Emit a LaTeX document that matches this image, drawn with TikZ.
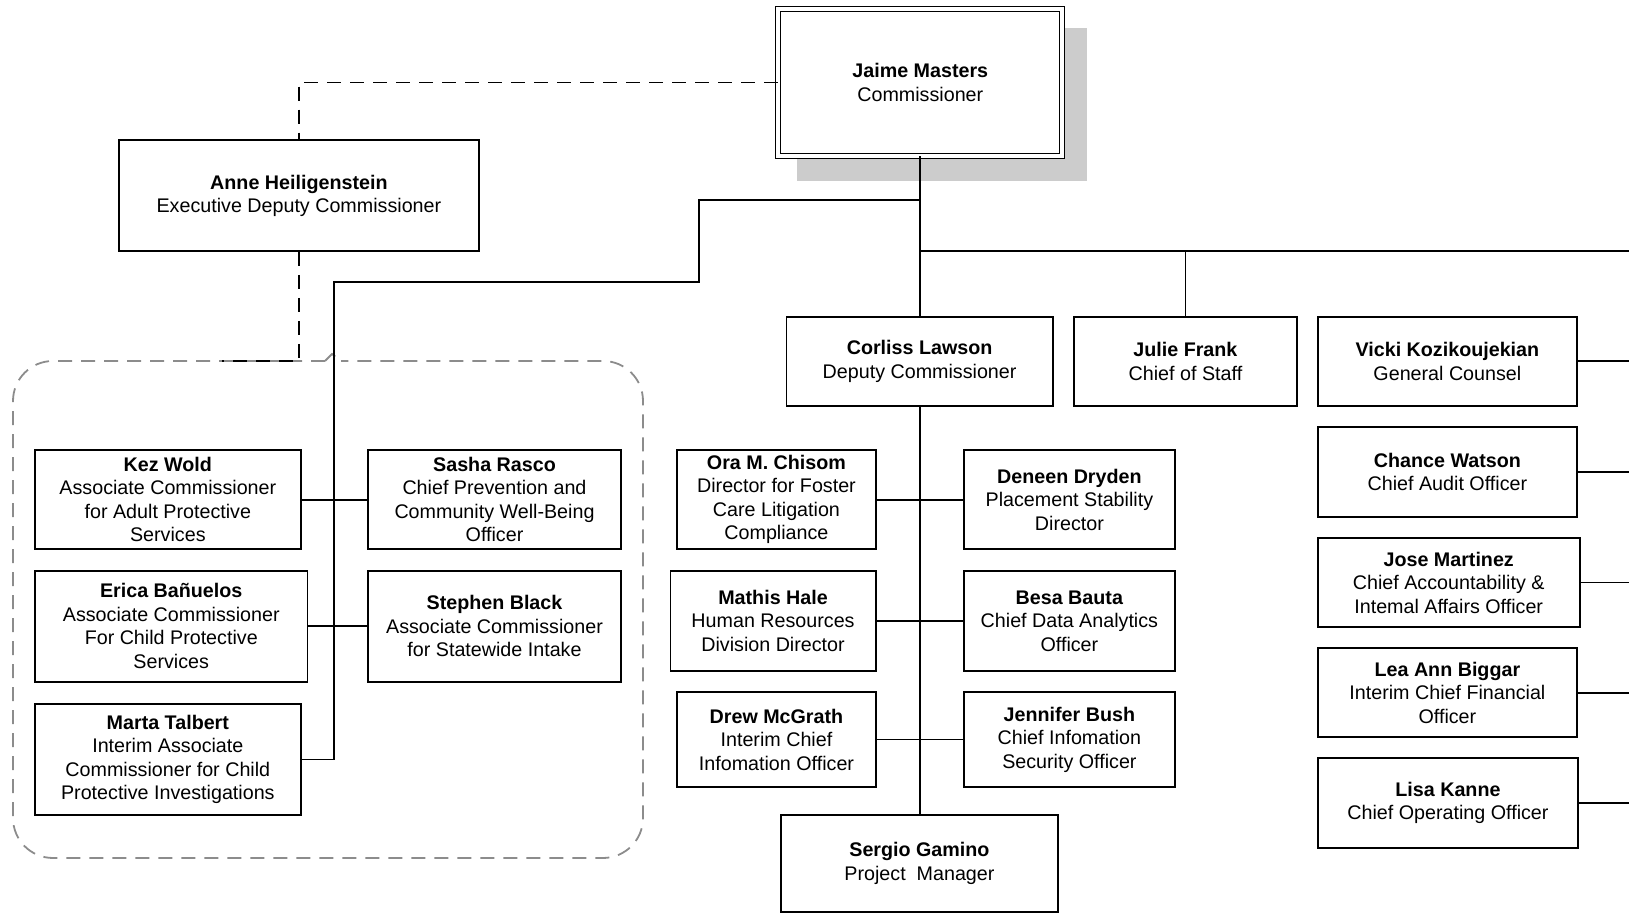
\documentclass[tikz,border=0pt]{standalone}
\usepackage{fontspec}
\setmainfont{Liberation Sans}
\begin{document}
\begin{tikzpicture}[x=0.5pt,y=-0.5pt]
\definecolor{shadowgray}{HTML}{CCCCCC}
\definecolor{grpgray}{HTML}{8C8C8C}
\tikzset{
  box/.style={draw, line width=0.9pt, fill=white, align=center, inner sep=0pt,
    font=\fontsize{9.85}{11.75}\selectfont},
  conn/.style={line width=0.9pt},
  dconn/.style={line width=0.9pt, dash pattern=on 7pt off 4.5pt},
  grp/.style={line width=0.9pt, grpgray, dash pattern=on 7pt off 4.5pt},
}
\useasboundingbox (0,0) rectangle (1629,913);
\coordinate (R) at (1629,0);

% shadow of top box
\fill[shadowgray] (796.5,27.7) rectangle (1086.6,180.7);

% dashed group boundary
\draw[grp, rounded corners=20pt] (325,361) -- (13,361) -- (13,858) -- (643,858) -- (643,361) -- (341,361);
\draw[grp] (325,361) -- (332,354) -- (341,361);

% nodes
\node[box, double, double distance=1.9pt, line width=0.6pt, minimum width=141.97pt, minimum height=73.25pt] (jaime) at (920.3,82.45) {\textbf{Jaime Masters}\\Commissioner};
\node[box, minimum width=179.7pt, minimum height=55.35pt] (anne) at (298.9,195.7) {\textbf{Anne Heiligenstein}\\Executive Deputy Commissioner};
\node[box, minimum width=133.1pt, minimum height=44.65pt] (corliss) at (919.6,361.35) {\textbf{Corliss Lawson}\\Deputy Commissioner};
\node[box, minimum width=111.55pt, minimum height=44.65pt] (julie) at (1185.45,361.35) {\textbf{Julie Frank}\\Chief of Staff};
\node[box, minimum width=129.8pt, minimum height=44.65pt] (vicki) at (1447.4,361.35) {\textbf{Vicki Kozikoujekian}\\General Counsel};
\node[box, minimum width=129.8pt, minimum height=44.85pt] (chance) at (1447.4,471.85) {\textbf{Chance Watson}\\Chief Audit Officer};
\node[box, minimum width=131.1pt, minimum height=44.8pt] (jose) at (1448.7,582.5) {\textbf{Jose Martinez}\\Chief Accountability \&\\Intemal Affairs Officer};
\node[box, minimum width=129.8pt, minimum height=44.5pt] (lea) at (1447.4,692.8) {\textbf{Lea Ann Biggar}\\Interim Chief Financial\\Officer};
\node[box, minimum width=130.35pt, minimum height=44.7pt] (lisa) at (1447.95,803) {\textbf{Lisa Kanne}\\Chief Operating Officer};

\node[box, minimum width=132.85pt, minimum height=49.65pt] (kez) at (167.85,499.65) {\textbf{Kez Wold}\\Associate Commissioner\\for Adult Protective\\Services};
\node[box, minimum width=126.8pt, minimum height=49.65pt] (sasha) at (494.5,499.65) {\textbf{Sasha Rasco}\\Chief Prevention and\\Community Well-Being\\Officer};
\node[box, minimum width=136.25pt, minimum height=55.5pt] (erica) at (171.25,626.2) {\textbf{Erica Bañuelos}\\Associate Commissioner\\For Child Protective\\Services};
\node[box, minimum width=126.8pt, minimum height=55.5pt] (stephen) at (494.5,626.2) {\textbf{Stephen Black}\\Associate Commissioner\\for Statewide Intake};
\node[box, minimum width=132.85pt, minimum height=55.5pt] (marta) at (167.85,759.5) {\textbf{Marta Talbert}\\Interim Associate\\Commissioner for Child\\Protective Investigations};

\node[box, minimum width=99.15pt, minimum height=49.65pt] (ora) at (776.45,499.65) {\textbf{Ora M. Chisom}\\Director for Foster\\Care Litigation\\Compliance};
\node[box, minimum width=102.55pt, minimum height=50.15pt] (mathis) at (773.05,620.85) {\textbf{Mathis Hale}\\Human Resources\\Division Director};
\node[box, minimum width=99.15pt, minimum height=47.2pt] (drew) at (776.45,739.5) {\textbf{Drew McGrath}\\Interim Chief\\Infomation Officer};
\node[box, minimum width=105.5pt, minimum height=49.65pt] (deneen) at (1069.4,499.65) {\textbf{Deneen Dryden}\\Placement Stability\\Director};
\node[box, minimum width=105.5pt, minimum height=50.15pt] (besa) at (1069.4,620.85) {\textbf{Besa Bauta}\\Chief Data Analytics\\Officer};
\node[box, minimum width=105.5pt, minimum height=47.2pt] (jennifer) at (1069.4,739.5) {\textbf{Jennifer Bush}\\Chief Infomation\\Security Officer};
\node[box, minimum width=138.55pt, minimum height=48.5pt] (sergio) at (919.45,863.5) {\textbf{Sergio Gamino}\\Project\ \ Manager};

% solid connectors
\draw[conn] (corliss.north |- jaime.south) -- (corliss.north);
\coordinate (b1) at (919.6,200);
\coordinate (b2) at (699,200);
\coordinate (b3) at (699,282.3);
\coordinate (b4) at (333.7,282.3);
\draw[conn] (b1) -- (b2) -- (b3) -- (b4) |- (marta.east);
\draw[conn] (kez.east) -- (sasha.west);
\draw[conn] (erica.east) -- (stephen.west);
\coordinate (h1) at (919.6,251);
\draw[conn] (h1) -- (h1 -| R);
\draw[conn] (julie.north) -- (julie.north |- h1);
\draw[conn] (vicki.east) -- (vicki.east -| R);
\draw[conn] (chance.east) -- (chance.east -| R);
\draw[conn] (jose.east) -- (jose.east -| R);
\draw[conn] (lea.east) -- (lea.east -| R);
\draw[conn] (lisa.east) -- (lisa.east -| R);
\draw[conn] (corliss.south) -- (corliss.south |- sergio.north);
\draw[conn] (ora.east) -- (deneen.west);
\draw[conn] (mathis.east) -- (besa.west);
\draw[conn] (drew.east) -- (jennifer.west);

% dashed connectors
\coordinate (g1) at (298.9,361);
\coordinate (g2) at (222,361);
\draw[dconn] (jaime.west) -| (anne.north);
\draw[dconn] (anne.south) -- (g1) -- (g2);
\end{tikzpicture}
\end{document}
